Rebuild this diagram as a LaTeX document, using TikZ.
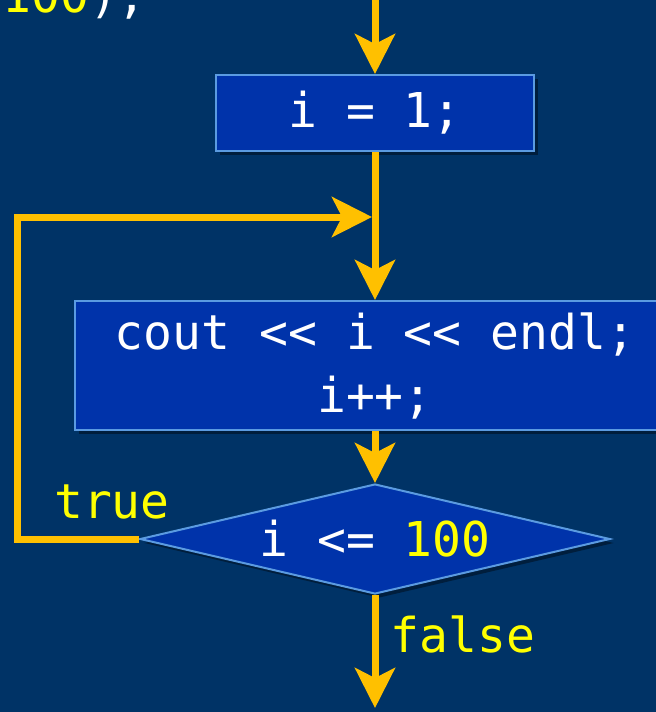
\documentclass[tikz,border=0pt]{standalone}
\usepackage{fontspec}
\setmonofont{DejaVu Sans Mono}
\usetikzlibrary{shapes.geometric,arrows.meta,shadows}
\definecolor{slidebg}{RGB}{0,51,102}
\definecolor{boxblue}{RGB}{0,51,170}
\definecolor{boxline}{RGB}{91,155,225}
\definecolor{flowgold}{RGB}{255,192,0}
\definecolor{codeyellow}{RGB}{255,255,0}
\newcommand{\codefont}{\ttfamily\fontsize{24}{31.5}\selectfont}

\begin{document}
\begin{tikzpicture}[x=0.5pt, y=-0.5pt,
  stmtnode/.style={rectangle, draw=boxline, line width=1pt, fill=boxblue, text=white, font=\codefont, align=center, inner sep=0pt, drop shadow={shadow xshift=2pt, shadow yshift=-2pt, fill=black, opacity=0.4}},
  testnode/.style={diamond, draw=boxline, line width=1pt, fill=boxblue, text=white, font=\codefont, inner sep=0pt, shape aspect=4.3, minimum width=235pt, minimum height=55pt, drop shadow={shadow xshift=2pt, shadow yshift=-2pt, fill=black, opacity=0.4}},
  labelnode/.style={text=codeyellow, font=\codefont, inner sep=0pt},
  flow/.style={draw=flowgold, line width=3.5pt, -{Stealth[length=20pt, width=20pt, inset=5pt]}},
  ]

\fill[slidebg] (0,0) rectangle (656,712);
\useasboundingbox (0,0) rectangle (656,712);
\clip (0,0) rectangle (656,712);

\node[labelnode, anchor=base west] (prev) at (2,12) {100\textcolor{white}{);}};

\node[stmtnode, minimum width=159pt, minimum height=38pt] (init) at (375,113) {i = 1;};
\node[stmtnode, minimum width=300pt, minimum height=64.5pt] (body) at (375,365.5) {cout << i << endl;\\i++;};
\node[testnode] (test) at (375,539) {i <= \textcolor{codeyellow}{100}};

\node[labelnode] (yes) at (112,502) {true};
\node[labelnode] (no) at (463,634) {false};

\coordinate (entry) at (375,-10);
\coordinate (join) at (372,217);
\coordinate (exit) at (375,708);

\draw[flow] (entry) -- (init.north);
\draw[flow] (init.south) -- (body.north);
\draw[flow] (body.south) -- (test.north);
\draw[flow] (test.west) -- ++(-122,0) |- (join);
\draw[flow] (test.south) -- (exit);

\end{tikzpicture}
\end{document}
